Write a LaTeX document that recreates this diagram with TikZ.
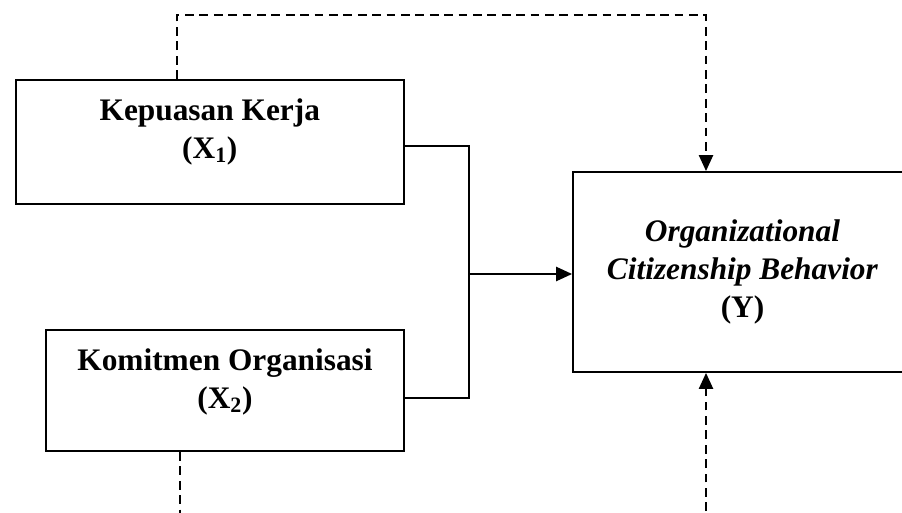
\documentclass[tikz,border=0pt]{standalone}
\usepackage{fontspec}
\setmainfont{Liberation Serif}
\usetikzlibrary{arrows.meta}

\begin{document}
\begin{tikzpicture}[
    kotak/.style={draw, line width=1.4pt, inner sep=0pt},
    teks/.style={align=center, font=\fontsize{22.3}{27}\selectfont\bfseries},
    garis/.style={line width=1pt},
    putus/.style={line width=0.9pt, dash pattern=on 0.22cm off 0.14cm},
    >={Triangle[length=0.4cm, width=0.36cm]}
]

    \clip (0,0) rectangle (22.55,-12.825);

    \node[kotak, minimum width=9.71cm, minimum height=3.1cm] (X1) at (5.245,-3.55) {};
    \node[kotak, minimum width=8.95cm, minimum height=3.025cm] (X2) at (5.625,-9.7625) {};
    \node[kotak, teks, minimum width=8.475cm, minimum height=5cm] (Y) at (18.5625,-6.8)
        {\textit{Organizational}\\\textit{Citizenship Behavior}\\(Y)};

    \node[teks] (tX1) at ([yshift=0.26cm]X1.center) {Kepuasan Kerja\\(X\textsubscript{1})};
    \node[teks] (tX2) at ([yshift=0.22cm]X2.center) {Komitmen Organisasi\\(X\textsubscript{2})};

    \coordinate (J) at (11.725,-6.85);
    \coordinate (B1) at (4.5,-13.5);
    \coordinate (B2) at (17.65,-13.5);

    % X1 dan X2 ke Y
    \draw[garis] ([yshift=-0.1cm]X1.east) -| (J) |- ([yshift=-0.19cm]X2.east);
    \draw[garis, ->] (J) -- (J -| Y.west);

    % garis putus-putus
    \draw[putus, ->] ([xshift=-0.82cm]X1.north) -- ++(0,1.6) -| ([xshift=-0.9125cm]Y.north);
    \draw[putus] ([xshift=-1.125cm]X2.south) -- (B1);
    \draw[putus, ->] (B2) -- ([xshift=-0.9125cm]Y.south);

\end{tikzpicture}
\end{document}
